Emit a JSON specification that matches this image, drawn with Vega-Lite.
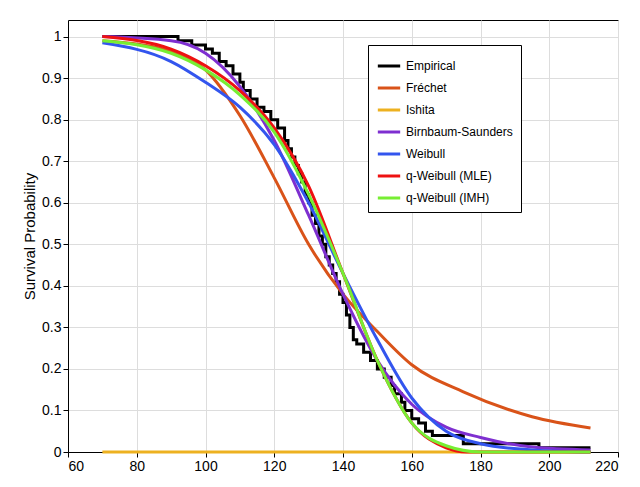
{
  "$schema": "https://vega.github.io/schema/vega-lite/v6.json",
  "width": 550,
  "height": 432,
  "padding": {"left": 22, "top": 20, "right": 20, "bottom": 5},
  "config": {
    "view": {"stroke": "#000", "strokeWidth": 1},
    "font": "Liberation Sans",
    "axis": {"gridColor": "#ddd", "labelFontSize": 14, "titleFontSize": 15, "titleFontWeight": "normal", "domainColor": "#000", "tickColor": "#000", "labelColor": "#000"}
  },
  "datasets": {
    "emp": [
      {"x": 70, "y": 1}, {"x": 92, "y": 0.99}, {"x": 96, "y": 0.98}, {"x": 100, "y": 0.97}, {"x": 102, "y": 0.96},
      {"x": 104, "y": 0.94}, {"x": 106, "y": 0.93}, {"x": 108, "y": 0.91}, {"x": 110, "y": 0.89}, {"x": 111, "y": 0.87},
      {"x": 113, "y": 0.85}, {"x": 115, "y": 0.83}, {"x": 117, "y": 0.82}, {"x": 119, "y": 0.8}, {"x": 121, "y": 0.78},
      {"x": 123, "y": 0.75}, {"x": 124, "y": 0.73}, {"x": 125, "y": 0.71}, {"x": 126, "y": 0.69}, {"x": 127, "y": 0.67},
      {"x": 128, "y": 0.65}, {"x": 129, "y": 0.62}, {"x": 130, "y": 0.6}, {"x": 131, "y": 0.57}, {"x": 132, "y": 0.55},
      {"x": 133, "y": 0.52}, {"x": 134, "y": 0.5}, {"x": 135, "y": 0.47}, {"x": 136, "y": 0.45}, {"x": 137, "y": 0.43},
      {"x": 138, "y": 0.41}, {"x": 139, "y": 0.38}, {"x": 140, "y": 0.36}, {"x": 141, "y": 0.33}, {"x": 142, "y": 0.3},
      {"x": 143, "y": 0.27}, {"x": 144, "y": 0.26}, {"x": 146, "y": 0.24}, {"x": 148, "y": 0.22}, {"x": 150, "y": 0.2},
      {"x": 152, "y": 0.18}, {"x": 154, "y": 0.16}, {"x": 155, "y": 0.14}, {"x": 157, "y": 0.12}, {"x": 158, "y": 0.1},
      {"x": 160, "y": 0.08}, {"x": 162, "y": 0.07}, {"x": 164, "y": 0.05}, {"x": 166, "y": 0.04}, {"x": 175, "y": 0.02},
      {"x": 197, "y": 0.01}, {"x": 212, "y": 0.01}
    ],
    "fits": [
      {"s": "Fréchet", "x": 70, "y": 0.99}, {"s": "Fréchet", "x": 90, "y": 0.965}, {"s": "Fréchet", "x": 100, "y": 0.92},
      {"s": "Fréchet", "x": 110, "y": 0.81}, {"s": "Fréchet", "x": 120, "y": 0.66}, {"s": "Fréchet", "x": 130, "y": 0.5},
      {"s": "Fréchet", "x": 140, "y": 0.38}, {"s": "Fréchet", "x": 150, "y": 0.29}, {"s": "Fréchet", "x": 160, "y": 0.21},
      {"s": "Fréchet", "x": 175, "y": 0.145}, {"s": "Fréchet", "x": 195, "y": 0.085}, {"s": "Fréchet", "x": 212, "y": 0.058},
      {"s": "Ishita", "x": 70, "y": 0}, {"s": "Ishita", "x": 212, "y": 0},
      {"s": "Birnbaum-Saunders", "x": 70, "y": 1}, {"s": "Birnbaum-Saunders", "x": 90, "y": 0.99}, {"s": "Birnbaum-Saunders", "x": 100, "y": 0.96},
      {"s": "Birnbaum-Saunders", "x": 110, "y": 0.88}, {"s": "Birnbaum-Saunders", "x": 120, "y": 0.75}, {"s": "Birnbaum-Saunders", "x": 130, "y": 0.57},
      {"s": "Birnbaum-Saunders", "x": 140, "y": 0.38}, {"s": "Birnbaum-Saunders", "x": 150, "y": 0.22}, {"s": "Birnbaum-Saunders", "x": 160, "y": 0.115},
      {"s": "Birnbaum-Saunders", "x": 170, "y": 0.06}, {"s": "Birnbaum-Saunders", "x": 180, "y": 0.035}, {"s": "Birnbaum-Saunders", "x": 195, "y": 0.012},
      {"s": "Birnbaum-Saunders", "x": 212, "y": 0.005},
      {"s": "Weibull", "x": 70, "y": 0.985}, {"s": "Weibull", "x": 90, "y": 0.94}, {"s": "Weibull", "x": 100, "y": 0.89},
      {"s": "Weibull", "x": 110, "y": 0.83}, {"s": "Weibull", "x": 120, "y": 0.74}, {"s": "Weibull", "x": 130, "y": 0.6},
      {"s": "Weibull", "x": 140, "y": 0.43}, {"s": "Weibull", "x": 150, "y": 0.27}, {"s": "Weibull", "x": 160, "y": 0.13},
      {"s": "Weibull", "x": 170, "y": 0.05}, {"s": "Weibull", "x": 180, "y": 0.02}, {"s": "Weibull", "x": 195, "y": 0.005},
      {"s": "Weibull", "x": 212, "y": 0},
      {"s": "q-Weibull (MLE)", "x": 70, "y": 1}, {"s": "q-Weibull (MLE)", "x": 90, "y": 0.97}, {"s": "q-Weibull (MLE)", "x": 100, "y": 0.93},
      {"s": "q-Weibull (MLE)", "x": 110, "y": 0.87}, {"s": "q-Weibull (MLE)", "x": 120, "y": 0.78}, {"s": "q-Weibull (MLE)", "x": 130, "y": 0.64},
      {"s": "q-Weibull (MLE)", "x": 140, "y": 0.43}, {"s": "q-Weibull (MLE)", "x": 150, "y": 0.22}, {"s": "q-Weibull (MLE)", "x": 160, "y": 0.07},
      {"s": "q-Weibull (MLE)", "x": 170, "y": 0.01}, {"s": "q-Weibull (MLE)", "x": 176, "y": 0}, {"s": "q-Weibull (MLE)", "x": 212, "y": 0},
      {"s": "q-Weibull (IMH)", "x": 70, "y": 0.99}, {"s": "q-Weibull (IMH)", "x": 90, "y": 0.96}, {"s": "q-Weibull (IMH)", "x": 100, "y": 0.92},
      {"s": "q-Weibull (IMH)", "x": 110, "y": 0.86}, {"s": "q-Weibull (IMH)", "x": 120, "y": 0.77}, {"s": "q-Weibull (IMH)", "x": 130, "y": 0.62},
      {"s": "q-Weibull (IMH)", "x": 140, "y": 0.43}, {"s": "q-Weibull (IMH)", "x": 150, "y": 0.22}, {"s": "q-Weibull (IMH)", "x": 160, "y": 0.07},
      {"s": "q-Weibull (IMH)", "x": 170, "y": 0.015}, {"s": "q-Weibull (IMH)", "x": 180, "y": 0}, {"s": "q-Weibull (IMH)", "x": 212, "y": 0}
    ]
  },
  "layer": [
    {
      "data": {"name": "emp"},
      "transform": [{"calculate": "'Empirical'", "as": "s"}],
      "mark": {"type": "line", "interpolate": "step-after", "strokeWidth": 3},
      "encoding": {
        "x": {"field": "x", "type": "quantitative", "scale": {"domain": [60, 220], "nice": false}, "axis": {"values": [60, 80, 100, 120, 140, 160, 180, 200, 220], "title": null}},
        "y": {"field": "y", "type": "quantitative", "scale": {"domain": [0, 1.04], "nice": false}, "axis": {"values": [0, 0.1, 0.2, 0.3, 0.4, 0.5, 0.6, 0.7, 0.8, 0.9, 1], "format": "~g", "title": "Survival Probability"}},
        "color": {"field": "s", "type": "nominal"}
      }
    },
    {
      "data": {"name": "fits"},
      "mark": {"type": "line", "interpolate": "monotone", "strokeWidth": 3},
      "encoding": {
        "x": {"field": "x", "type": "quantitative"},
        "y": {"field": "y", "type": "quantitative"},
        "color": {
          "field": "s", "type": "nominal",
          "scale": {
            "domain": ["Empirical", "Fréchet", "Ishita", "Birnbaum-Saunders", "Weibull", "q-Weibull (MLE)", "q-Weibull (IMH)"],
            "range": ["#000000", "#d95319", "#edb120", "#7e2fd0", "#3355ee", "#ee1111", "#77ee33"]
          },
          "legend": {
            "title": null, "orient": "none", "legendX": 300, "legendY": 25,
            "symbolType": "stroke", "symbolStrokeWidth": 3, "symbolSize": 500, "labelFontSize": 12,
            "fillColor": "white", "strokeColor": "#000", "padding": 8, "rowPadding": 3
          }
        }
      }
    }
  ]
}
